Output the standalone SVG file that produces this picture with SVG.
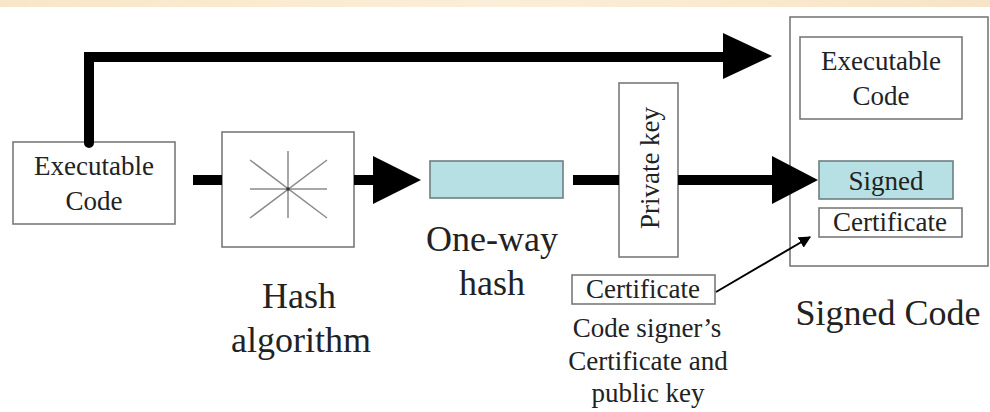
<svg xmlns="http://www.w3.org/2000/svg" width="990" height="412" viewBox="0 0 990 412">
  <style>
    .box { fill: #ffffff; stroke: #7a7a7a; stroke-width: 1.6; }
    .teal { fill: #b6e0e3; stroke: #6f7f80; stroke-width: 1.6; }
    .txt { font-family: "Liberation Serif", "DejaVu Serif", "Times New Roman", serif; fill: #222222; text-anchor: middle; }
    .t28 { font-size: 27px; }
    .t36 { font-size: 36px; }
    .thick { fill: none; stroke: #000000; stroke-width: 10; }
    .head { fill: #000000; }
    .star { stroke: #8a8a8a; stroke-width: 1.5; }
  </style>
  <defs>
    <linearGradient id="band" x1="0" y1="0" x2="1" y2="0">
      <stop offset="0" stop-color="#f8e6c8"/>
      <stop offset="0.5" stop-color="#fbeed8"/>
      <stop offset="1" stop-color="#f7e4c6"/>
    </linearGradient>
    <marker id="thin-arrow" viewBox="0 0 10 10" refX="9" refY="5" markerWidth="12" markerHeight="12" orient="auto" markerUnits="userSpaceOnUse">
      <path d="M0,0 L10,5 L0,10 Z" fill="#000"/>
    </marker>
  </defs>

  <rect width="990" height="412" fill="#ffffff"/>
  <rect x="0" y="0" width="990" height="7" fill="url(#band)"/>

  <g id="exec-code">
    <rect class="box" x="13" y="142" width="162" height="82"/>
    <text class="txt t28" x="94" y="175">Executable</text>
    <text class="txt t28" x="94" y="210">Code</text>
  </g>

  <g id="hash-algorithm">
    <rect class="box" x="222" y="132" width="132" height="115"/>
    <g class="star">
      <line x1="288" y1="151" x2="288" y2="218"/>
      <line x1="250" y1="189" x2="327" y2="189"/>
      <line x1="250" y1="160" x2="327" y2="218"/>
      <line x1="250" y1="218" x2="327" y2="160"/>
    </g>
    <circle cx="288" cy="189" r="1.8" fill="#333"/>
    <text class="txt t36" x="299" y="308">Hash</text>
    <text class="txt t36" x="301" y="352">algorithm</text>
  </g>

  <g id="one-way-hash">
    <rect class="teal" x="430" y="161" width="133" height="37"/>
    <text class="txt t36" x="492" y="251">One-way</text>
    <text class="txt t36" x="492" y="295">hash</text>
  </g>

  <g id="private-key">
    <rect class="box" x="619" y="83" width="59" height="174"/>
    <text class="txt t28" transform="translate(659,168) rotate(-90)" x="0" y="0">Private key</text>
  </g>

  <g id="signer-certificate">
    <rect class="box" x="572" y="275" width="143" height="29"/>
    <text class="txt t28" x="643" y="298">Certificate</text>
    <text class="txt t28" x="647" y="337">Code signer’s</text>
    <text class="txt t28" x="648" y="370">Certificate and</text>
    <text class="txt t28" x="648" y="402">public key</text>
  </g>

  <g id="signed-code">
    <rect class="box" x="790" y="17" width="198" height="249"/>
    <rect class="box" x="800" y="37" width="162" height="82"/>
    <text class="txt t28" x="881" y="70">Executable</text>
    <text class="txt t28" x="881" y="105">Code</text>
    <rect class="teal" x="819" y="161" width="134" height="38"/>
    <text class="txt t28" x="886" y="190">Signed</text>
    <rect class="box" x="819" y="208" width="143" height="29"/>
    <text class="txt t28" x="890" y="231">Certificate</text>
    <text class="txt t36" x="888" y="325">Signed Code</text>
  </g>

  <!-- connectors, drawn over the boxes -->
  <g id="connectors">
    <path class="thick" d="M89,143 V57 H726" stroke-linecap="round"/>
    <polygon class="head" points="723,33 772,56 723,79"/>
    <line class="thick" x1="193" y1="180" x2="222" y2="180"/>
    <line class="thick" x1="354" y1="180" x2="376" y2="180"/>
    <polygon class="head" points="373,156 421,180 373,204"/>
    <line class="thick" x1="573" y1="180" x2="619" y2="180"/>
    <line class="thick" x1="678" y1="180" x2="775" y2="180"/>
    <polygon class="head" points="772,156 818,180 772,204"/>
    <line x1="716" y1="292" x2="810" y2="237" stroke="#000" stroke-width="2" marker-end="url(#thin-arrow)"/>
  </g>
</svg>
